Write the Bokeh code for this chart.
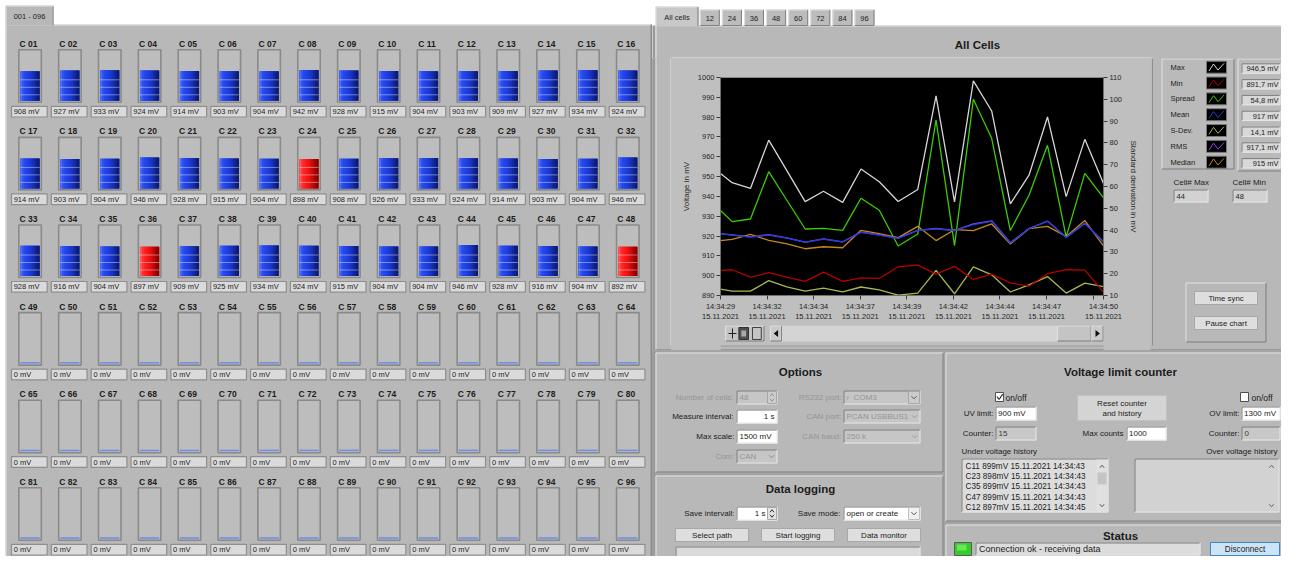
import numpy as np
import pandas as pd
from bokeh.plotting import figure
from bokeh.layouts import row, column
from bokeh.models import Range1d, LinearAxis, FixedTicker
from bokeh.core.properties import value
from bokeh.embed import file_html
from bokeh.resources import INLINE

# ---------------- data ----------------
CELL_NAMES = [f"C {i:02d}" for i in range(1, 97)]
CELL_MV = [908, 927, 933, 924, 914, 903, 904, 942, 928, 915, 904, 903, 909, 927, 934, 924,
           914, 903, 904, 946, 928, 915, 904, 898, 908, 926, 933, 924, 914, 903, 904, 946,
           928, 916, 904, 897, 909, 925, 934, 924, 915, 904, 904, 946, 928, 916, 904, 892] + [0] * 48
NUM_CELLS = 48
UV_LIMIT_MV = 900
MAX_SCALE_MV = 1500

DATE = "15.11.2021"
SAMPLE_TIMES = ["14:34:29.00", "14:34:29.63", "14:34:30.62", "14:34:31.61", "14:34:32.59", "14:34:33.58",
                "14:34:34.57", "14:34:35.61", "14:34:36.60", "14:34:37.59", "14:34:38.61", "14:34:39.67",
                "14:34:40.66", "14:34:41.66", "14:34:42.68", "14:34:43.67", "14:34:44.68", "14:34:45.69",
                "14:34:46.69", "14:34:47.70", "14:34:48.71", "14:34:49.72"]
MAX_MV = [951.6, 946.9, 944.0, 968.4, 953.0, 937.4, 942.6, 937.0, 953.8, 947.4, 937.4, 943.5,
          990.7, 937.2, 998.3, 983.1, 936.2, 950.7, 980.1, 939.9, 968.8, 946.5]
MIN_MV = [902.5, 903.0, 899.3, 901.5, 899.3, 897.1, 901.8, 897.1, 898.9, 898.6, 904.5, 905.3,
          900.8, 904.7, 898.1, 900.8, 896.4, 894.7, 901.0, 903.0, 902.8, 891.7]
SPREAD_MV = [49.0, 43.9, 45.1, 66.8, 53.7, 40.5, 40.8, 39.9, 54.6, 49.1, 32.7, 38.2,
             90.5, 32.9, 100.0, 82.1, 39.8, 56.0, 78.9, 36.9, 66.0, 54.8]
MEAN_MV = [921.1, 920.5, 919.5, 920.5, 919.0, 916.8, 918.5, 917.0, 921.9, 920.5, 918.8, 922.8,
           923.6, 922.7, 925.8, 927.4, 916.5, 923.7, 927.4, 919.3, 926.3, 917.0]
SDEV_MV = [12.9, 12.0, 12.0, 16.8, 14.0, 12.0, 13.4, 11.7, 13.9, 12.6, 10.2, 11.1,
           21.5, 10.8, 23.1, 19.5, 11.6, 14.9, 18.7, 11.1, 15.7, 14.1]
RMS_MV = [921.2, 920.6, 919.6, 920.7, 919.1, 916.9, 918.6, 917.1, 922.0, 920.6, 918.9, 922.9,
          923.9, 922.8, 926.1, 927.7, 916.6, 923.8, 927.6, 919.4, 926.5, 917.1]
MEDIAN_MV = [917.7, 918.3, 920.9, 917.8, 916.1, 913.6, 914.6, 914.1, 922.9, 921.2, 919.2, 924.9,
             917.7, 923.2, 922.7, 926.1, 916.0, 923.7, 924.9, 919.8, 927.8, 915.0]

VOLT_TICKS = list(range(890, 1001, 10))
SD_TICKS = list(range(10, 111, 10))
X_TICK_TIMES = ["14:34:29.00", "14:34:31.52", "14:34:34.04", "14:34:36.56", "14:34:39.08",
                "14:34:41.60", "14:34:44.12", "14:34:46.64", "14:34:49.16", "14:34:49.72"]
X_TICK_LABELS = ["14:34:29", "14:34:32", "14:34:34", "14:34:37", "14:34:39",
                 "14:34:42", "14:34:44", "14:34:47", "", "14:34:50"]

LEGEND_NAMES = ["Max", "Min", "Spread", "Mean", "S-Dev.", "RMS", "Median"]
TAB_LABELS = ["All cells", "12", "24", "36", "48", "60", "72", "84", "96"]
UV_HISTORY = ["C11 899mV  15.11.2021 14:34:43", "C23 898mV  15.11.2021 14:34:43",
              "C35 899mV  15.11.2021 14:34:43", "C47 899mV  15.11.2021 14:34:43",
              "C12 897mV  15.11.2021 14:34:45"]

# ---------------- styles ----------------
FONT = value("Liberation Sans")
PANEL = "#b8b8b8"
INSET = "#bfbfbf"
LIGHT = "#e2e2e2"
DARK = "#7c7c7c"
SEP = "#9a9a9a"
FIELD = "#dadada"
TXT = "#1c1c1c"
GREY = "#959595"
SERIES_COLORS = ["#d6d6d6", "#b40000", "#3ccc00", "#1f3fd8", "#a6ba4c", "#9444ea", "#c8861e"]
BLUE_GRAD = ["#4a6cf8", "#2f52f2", "#2446ea", "#2142e4", "#1e3ddb", "#1b37cc", "#1731b8", "#1329a0", "#0f2188", "#0b1a72"]
RED_GRAD = ["#ff5656", "#ff3434", "#ff2222", "#fa1a1a", "#f21414", "#e21010", "#cc0b0b", "#b40707", "#9c0303", "#860000"]
W_PAGE, H_PAGE = 1281, 556


def canvas(x0, x1, y0, y1, bg="white"):
    p = figure(width=int(round(x1 - x0)), height=int(round(y1 - y0)),
               x_range=Range1d(x0, x1), y_range=Range1d(y1, y0),
               x_axis_location=None, y_axis_location=None, tools="",
               toolbar_location=None, output_backend="svg", min_border=0,
               outline_line_color=None, background_fill_color=bg, border_fill_color=bg)
    p.grid.visible = False
    p.styles = {"background-color": bg}
    return p


def box(p, x0, y0, x1, y1, fill, line=None, lw=1.0):
    p.quad(left=[x0], right=[x1], top=[y0], bottom=[y1], fill_color=fill,
           line_color=line, line_width=lw)


def bevel(p, x0, y0, x1, y1, hi=LIGHT, lo=DARK, lw=1.0):
    p.line([x0 + 0.5, x0 + 0.5, x1 - 0.5], [y1 - 0.5, y0 + 0.5, y0 + 0.5], line_color=hi, line_width=lw)
    p.line([x0 + 0.5, x1 - 0.5, x1 - 0.5], [y1 - 0.5, y1 - 0.5, y0 + 0.5], line_color=lo, line_width=lw)


def raised(p, x0, y0, x1, y1, fill=PANEL):
    box(p, x0, y0, x1, y1, fill)
    bevel(p, x0, y0, x1, y1, LIGHT, DARK)


def sunken(p, x0, y0, x1, y1, fill):
    box(p, x0, y0, x1, y1, fill)
    bevel(p, x0, y0, x1, y1, "#7a7a7a", "#e6e6e6")


def txt(p, x, y, s, size=8.0, align="left", color=TXT, bold=False):
    p.text(x=[x], y=[y], text=[s], text_font=FONT, text_font_size=f"{size}px",
           text_align=align, text_baseline="middle", text_color=color,
           text_font_style="bold" if bold else "normal")


def button(p, x0, y0, x1, y1, label, size=8.0, fill="#dedede", line="#a8a8a8"):
    box(p, x0, y0, x1, y1, fill, line)
    txt(p, (x0 + x1) / 2, (y0 + y1) / 2 + 0.3, label, size, "center")


def chevron(p, x, y, color="#8a8a8a", up=False, s=2.6):
    d = -1 if up else 1
    p.line([x - s, x, x + s], [y - d * 1.3, y + d * 1.3, y - d * 1.3], line_color=color, line_width=1)


# ---------------- left panel: cells ----------------
L = canvas(0, 652, 0, H_PAGE)
box(L, 5, 24, 652, 600, PANEL)
L.line([5.5, 5.5, 651], [600, 24.5, 24.5], line_color=LIGHT)
box(L, 650, 24, 652, 600, "#8c8c8c")
box(L, 5, 5, 53, 25, PANEL)
L.line([5.5, 5.5, 52.5, 52.5], [25, 5.5, 5.5, 25], line_color=LIGHT)
L.line([52.5, 52.5], [6, 25], line_color=DARK)
txt(L, 29, 15.5, "001 - 096", 7.5, "center")

COLS = 16
COL0, COL_PITCH = 29.5, 39.85
ROW0, ROW_PITCH = 100.3, 87.6
INNER_H = 49.0
K = MAX_SCALE_MV / INNER_H          # mV per pixel of the level indicators
FILL_W, FILL_DX = 19.3, 0.05
NS = len(BLUE_GRAD)
SEG_PX = [6.0, 13.5, 21.0]

vals = np.array(CELL_MV, dtype=float)
idx = np.arange(len(vals))
ci = idx % COLS
ri = idx // COLS
cx = COL0 + COL_PITCH * ci
base_px = ROW0 + ROW_PITCH * ri
base_mv = -ri * ROW_PITCH * K

L.extra_y_ranges = {"mv": Range1d(start=(ROW0 - H_PAGE) * K, end=ROW0 * K)}

# containers
L.quad(left=cx - 11.2, right=cx + 11.3, top=base_px - 51, bottom=base_px + 1.5,
       fill_color="#bdbdbd", line_color="#8a8a8a", line_width=1.6)
# zero-level line
L.segment(x0=cx - FILL_W / 2, x1=cx + FILL_W / 2, y0=base_mv + 0.8 * K, y1=base_mv + 0.8 * K,
          y_range_name="mv", line_color="#6d8de6", line_width=1.5)
# level fills with a horizontal gradient
nz = idx[vals > 0]
is_low = vals[nz] < UV_LIMIT_MV
L.vbar(x=cx[nz] + FILL_DX, width=FILL_W, bottom=base_mv[nz], top=base_mv[nz] + vals[nz],
       fill_color=[RED_GRAD[5] if lo else BLUE_GRAD[5] for lo in is_low], line_color=None,
       y_range_name="mv")
bx, bb, bt, bc = [], [], [], []
sx0, sx1, sy = [], [], []
for i in nz:
    grad = RED_GRAD if vals[i] < UV_LIMIT_MV else BLUE_GRAD
    left = cx[i] - FILL_W / 2 + FILL_DX
    sw = FILL_W / NS
    for s in range(NS):
        w = sw + (0.9 if s < NS - 1 else 0.0)
        bx.append(left + s * sw + w / 2)
        bb.append(base_mv[i])
        bt.append(base_mv[i] + vals[i])
        bc.append(grad[s])
    for sp in SEG_PX:
        if sp * K < vals[i]:
            sx0.append(left)
            sx1.append(left + FILL_W)
            sy.append(base_mv[i] + sp * K)
bw = [FILL_W / NS + (0.9 if (k % NS) < NS - 1 else 0.0) for k in range(len(bx))]
L.vbar(x=bx, width=bw, bottom=bb, top=bt, fill_color=bc, line_color=None, y_range_name="mv")
L.segment(x0=sx0, x1=sx1, y0=sy, y1=sy, y_range_name="mv", line_color="white",
          line_alpha=0.42, line_width=1)
# names and value boxes
L.text(x=cx - 1.5, y=base_px - 57, text=CELL_NAMES, text_font=FONT, text_font_size="8.5px",
       text_font_style="bold", text_align="center", text_baseline="middle", text_color=TXT)
L.quad(left=cx - 18.5, right=cx + 17.2, top=base_px + 5.5, bottom=base_px + 16.2,
       fill_color=FIELD, line_color="#8e8e8e", line_width=1.2)
L.text(x=cx - 16.3, y=base_px + 10.9, text=[f"{int(v)} mV" for v in vals], text_font=FONT,
       text_font_size="7.5px", text_align="left", text_baseline="middle", text_color=TXT)

# ---------------- header (tabs + title) ----------------
H = canvas(652, W_PAGE, 0, 58)
box(H, 651, 25, 655, 60, SEP)
box(H, 655, 25, 1300, 60, PANEL)
H.line([655.5, 655.5], [60, 25], line_color=LIGHT)
H.line([698, 1300], [25.5, 25.5], line_color=LIGHT)
box(H, 655, 6, 698, 26, "#c8c8c8")
H.line([655.5, 655.5, 697.5], [26, 6.5, 6.5], line_color=LIGHT)
H.line([697.5, 697.5], [6.5, 25.5], line_color=DARK)
txt(H, 676.5, 16.5, TAB_LABELS[0], 7.5, "center")
for k, lab in enumerate(TAB_LABELS[1:]):
    x0 = 699.3 + 22.1 * k
    box(H, x0, 9, x0 + 20, 25, "#bcbcbc")
    bevel(H, x0, 9, x0 + 20, 25.5, LIGHT, "#808080")
    txt(H, x0 + 10, 17.5, lab, 7.5, "center")
txt(H, 977, 44, "All Cells", 11.5, "center", bold=True)
box(H, 671, 56.5, 1152, 58, "#cfcfcf")

# ---------------- strip left of chart ----------------
St = canvas(652, 671, 58, 350, bg=PANEL)
box(St, 651, 58, 655, 350, SEP)
St.line([655.5, 655.5], [58, 350], line_color=LIGHT)
box(St, 669.5, 58, 671, 345, "#cfcfcf")
St.line([655, 671], [349.5, 349.5], line_color=DARK)

# ---------------- chart ----------------
def to_ms(times):
    return [int(pd.to_datetime(DATE + " " + t, format="%d.%m.%Y %H:%M:%S.%f").value // 10**6) for t in times]

T_MS = to_ms(SAMPLE_TIMES)
TICK_MS = to_ms(X_TICK_TIMES)

C = figure(width=479, height=267, x_axis_type="datetime", x_range=Range1d(T_MS[0], T_MS[-1]),
           y_range=Range1d(VOLT_TICKS[0], VOLT_TICKS[-1]), output_backend="svg", tools="",
           toolbar_location=None, min_border_left=49, min_border_right=47, min_border_top=19,
           min_border_bottom=30, background_fill_color="black", border_fill_color=INSET,
           outline_line_color="#8a8a8a")
C.styles = {"background-color": INSET}
C.grid.visible = False
C.extra_y_ranges = {"sd": Range1d(SD_TICKS[0], SD_TICKS[-1])}
C.add_layout(LinearAxis(y_range_name="sd", axis_label="Standard derivation in mV",
                        ticker=FixedTicker(ticks=SD_TICKS)), "right")
C.left[0].ticker = FixedTicker(ticks=VOLT_TICKS)
C.left[0].axis_label = "Voltage in mV"
C.xaxis.ticker = FixedTicker(ticks=TICK_MS)
C.xaxis.major_label_overrides = {t: (f"{lab}\n{DATE}" if lab else " ") for t, lab in zip(TICK_MS, X_TICK_LABELS)}
for ax in C.axis:
    ax.major_label_text_font = "Liberation Sans"
    ax.major_label_text_font_size = "7.5px"
    ax.major_label_text_color = "#262626"
    ax.axis_label_text_font = "Liberation Sans"
    ax.axis_label_text_font_size = "8px"
    ax.axis_label_text_font_style = "normal"
    ax.axis_label_text_color = "#2a2a2a"
    ax.axis_label_standoff = 4
    ax.major_label_standoff = 2
    ax.major_tick_out = 4
    ax.major_tick_in = 0
    ax.minor_tick_line_color = None
    ax.axis_line_color = "#707070"
    ax.major_tick_line_color = "#3c3c3c"

SERIES = [MAX_MV, MIN_MV, SPREAD_MV, MEAN_MV, SDEV_MV, RMS_MV, MEDIAN_MV]
ON_SD_AXIS = [False, False, True, False, True, False, False]
DRAW_ORDER = [4, 1, 0, 2, 6, 5, 3]
for k in DRAW_ORDER:
    kw = {"y_range_name": "sd"} if ON_SD_AXIS[k] else {}
    C.line(T_MS, SERIES[k], line_color=SERIES_COLORS[k], line_width=1.3, **kw)

# ---------------- scroll bar under the chart ----------------
Sc = canvas(671, 1150, 325, 350, bg=INSET)
box(Sc, 671, 345, 1152, 350, PANEL)
Sc.line([671, 1152], [345.5, 345.5], line_color="#9a9a9a")
Sc.line([671, 1152], [349.5, 349.5], line_color=DARK)
raised(Sc, 677, 325, 726, 341, "#c4c4c4")
Sc.line([681, 691], [333, 333], line_color="#202020")
Sc.line([686, 686], [328, 338], line_color="#202020")
box(Sc, 694, 327, 706, 339, "#4e4e4e", "#303030")
box(Sc, 697, 330, 703, 336, "#a8a8a8")
box(Sc, 711, 327, 722, 339, "#c4c4c4", "#404040")
raised(Sc, 733, 325, 748, 341, "#cacaca")
Sc.patch([743, 743, 737.5], [329.5, 336.5, 333], fill_color="#101010", line_color=None)
box(Sc, 748, 325, 1092, 341, "#d4d4d4")
raised(Sc, 1092, 325, 1135, 341, "#c4c4c4")
raised(Sc, 1135, 325, 1150, 341, "#cacaca")
Sc.patch([1140, 1140, 1145.5], [329.5, 336.5, 333], fill_color="#101010", line_color=None)

# ---------------- side panel: legend and values ----------------
Sd = canvas(1150, W_PAGE, 58, 350, bg=PANEL)
box(Sd, 1150, 58, 1152, 345, INSET)
Sd.line([1152, 1152], [58, 345], line_color="#8e8e8e")
Sd.line([1150, 1300], [349.5, 349.5], line_color=DARK)
raised(Sd, 1161, 58, 1234, 169, "#bababa")
raised(Sd, 1237, 58, 1290, 171, "#bababa")
for k, name in enumerate(LEGEND_NAMES):
    y = 66.7 + 15.83 * k
    txt(Sd, 1170, y, name, 7.5)
    box(Sd, 1206, y - 6, 1226, y + 6, "black", "#7a7a7a")
    Sd.line([1208.5, 1213, 1217.5, 1223.5], [y + 3.8, y - 3.2, y + 2.8, y - 3.8],
            line_color=SERIES_COLORS[k], line_width=1)
    yv = 68 + 15.8 * k
    sunken(Sd, 1241, yv - 5.2, 1280, yv + 5.2, "#d8d8d8")
    last = SERIES[k][-1]
    txt(Sd, 1278, yv + 0.3, f"{last:g}".replace(".", ",") + " mV", 7.5, "right")

first = np.array(CELL_MV[:NUM_CELLS])
cell_max = int(np.flatnonzero(first == first.max())[-1]) + 1
cell_min = int(np.flatnonzero(first == first.min())[-1]) + 1
txt(Sd, 1173, 182, "Cell# Max", 8)
sunken(Sd, 1173, 189, 1208, 202, "#d2d2d2")
txt(Sd, 1176, 195.7, str(cell_max), 7.5)
txt(Sd, 1232, 182, "Cell# Min", 8)
sunken(Sd, 1232, 189, 1267, 202, "#d2d2d2")
txt(Sd, 1235, 195.7, str(cell_min), 7.5)
raised(Sd, 1185, 282, 1266, 342, PANEL)
button(Sd, 1194, 291, 1257, 304, "Time sync", 7.8)
button(Sd, 1194, 316, 1257, 329, "Pause chart", 7.8)

# ---------------- bottom panels ----------------
B = canvas(652, W_PAGE, 350, H_PAGE, bg="#a4a4a4")
box(B, 651, 350, 655, 600, SEP)
# Options
raised(B, 655, 352, 943, 472)
txt(B, 800, 371, "Options", 11.5, "center", bold=True)
txt(B, 733, 397, "Number of cells:", 8, "right", GREY)
sunken(B, 736, 390, 777, 404, "#c6c6c6")
txt(B, 739, 397, str(NUM_CELLS), 8, "left", GREY)
box(B, 767, 391, 776, 403, "#cdcdcd", "#a8a8a8")
chevron(B, 771.5, 394.5, GREY, up=True, s=2)
chevron(B, 771.5, 399.5, GREY, s=2)
txt(B, 733, 416, "Measure interval:", 8, "right")
sunken(B, 736, 409, 777, 423, "white")
txt(B, 774, 416, "1 s", 8, "right")
txt(B, 734, 436, "Max scale:", 8, "right")
sunken(B, 736, 429, 777, 443, "white")
txt(B, 739, 436, f"{MAX_SCALE_MV} mV", 8)
txt(B, 734, 456, "Com:", 8, "right", GREY)
sunken(B, 736, 449, 777, 463, "#c6c6c6")
txt(B, 739, 456, "CAN", 8, "left", GREY)
chevron(B, 771, 456)
for y, lab, val in [(397, "RS232 port:", "COM3"), (416, "CAN port:", "PCAN USBBUS1"), (436, "CAN baud:", "250 k")]:
    txt(B, 841, y, lab, 8, "right", GREY)
    sunken(B, 843, y - 7, 920, y + 7, "#c6c6c6")
    txt(B, 853 if val == "COM3" else 846, y, val, 8, "left", GREY)
    chevron(B, 914, y, "#9a9a9a")
txt(B, 847, 397, "⅟", 6, "center", GREY)
box(B, 908, 391, 919, 403, "#cccccc", "#a8a8a8")
chevron(B, 913.5, 397, "#555555")
# Data logging
raised(B, 655, 475, 943, 572)
txt(B, 800, 488, "Data logging", 11.5, "center", bold=True)
txt(B, 734, 513, "Save intervall:", 8, "right")
sunken(B, 736, 506, 777, 520, "white")
txt(B, 765, 513, "1 s", 8, "right")
box(B, 767, 507, 776, 519, "#e4e4e4", "#a8a8a8")
chevron(B, 771.5, 510.5, "#333333", up=True, s=2)
chevron(B, 771.5, 515.5, "#333333", s=2)
txt(B, 840, 513, "Save mode:", 8, "right")
sunken(B, 843, 506, 920, 520, "white")
txt(B, 846, 513, "open or create", 8)
box(B, 908, 507, 919, 519, "#f0f0f0", "#c0c0c0")
chevron(B, 913.5, 513, "#555555")
button(B, 675, 528, 748, 541, "Select path")
button(B, 761, 528, 834, 541, "Start logging")
button(B, 847, 528, 920, 541, "Data monitor")
sunken(B, 675, 546, 920, 560, "#dadada")
# Voltage limit counter
raised(B, 945, 352, 1297, 521)
txt(B, 1120, 371, "Voltage limit counter", 11.5, "center", bold=True)
box(B, 995, 392, 1003, 401, "white", "#505050")
B.line([996.5, 998.6, 1002.2], [396.2, 399, 393.6], line_color="#303030", line_width=1.2)
txt(B, 1005, 397, "on/off", 8.5)
txt(B, 993, 413, "UV limit:", 8, "right")
sunken(B, 995, 406, 1036, 420, "white")
txt(B, 997.5, 413, f"{UV_LIMIT_MV} mV", 8)
txt(B, 993, 433, "Counter:", 8, "right")
sunken(B, 995, 426, 1036, 440, "#c8c8c8")
txt(B, 998, 433, "15", 8, "left", "#3a3a3a")
box(B, 1077, 395, 1166, 420, "#d4d4d4", "#c0c0c0")
txt(B, 1121.5, 403, "Reset counter", 8, "center")
txt(B, 1121.5, 413, "and history", 8, "center")
txt(B, 1123, 433, "Max counts", 8, "right")
sunken(B, 1126, 426, 1166, 440, "white")
txt(B, 1128.5, 433, "1000", 8)
box(B, 1240, 392, 1248, 401, "white", "#505050")
txt(B, 1251, 397, "on/off", 8.5)
txt(B, 1239, 413, "OV limit:", 8, "right")
sunken(B, 1241, 406, 1280, 420, "white")
txt(B, 1243.5, 413, "1300 mV", 8)
txt(B, 1239, 433, "Counter:", 8, "right")
sunken(B, 1241, 426, 1280, 440, "#c8c8c8")
txt(B, 1244, 433, "0", 8, "left", "#3a3a3a")
txt(B, 961, 451, "Under voltage history", 8)
sunken(B, 961, 458, 1108, 512, "#dcdcdc")
for k, line in enumerate(UV_HISTORY):
    txt(B, 965, 466 + 10.2 * k, line, 8.2)
box(B, 1096, 459, 1107, 511, "#e0e0e0")
box(B, 1097, 472, 1106, 484, "#c4c4c4")
chevron(B, 1101.5, 466, "#555555", up=True, s=2.2)
chevron(B, 1101.5, 505, "#555555", s=2.2)
txt(B, 1277, 451, "Over voltage history", 8, "right")
sunken(B, 1134, 458, 1279, 512, "#d2d2d2")
chevron(B, 1271, 466, "#666666", up=True, s=2.2)
chevron(B, 1271, 505, "#666666", s=2.2)
# Status
raised(B, 945, 524, 1297, 572)
txt(B, 1120, 535.5, "Status", 11.5, "center", bold=True)
box(B, 954, 542, 971, 555, "#34cc28", "#5a5a5a")
box(B, 956.5, 544, 966, 550, "#6ae65a")
sunken(B, 975, 542, 1200, 555, "#dcdcdc")
txt(B, 978.5, 548.8, "Connection ok - receiving data", 9)
button(B, 1210, 542, 1279, 555, "Disconnect", 8.2, fill="#cce4f7", line="#3f86c4")

right = column(H, row(St, column(C, Sc), Sd), B)
page = row(L, right)
open("out.html", "w").write(file_html(page, INLINE, "Cell monitor"))
